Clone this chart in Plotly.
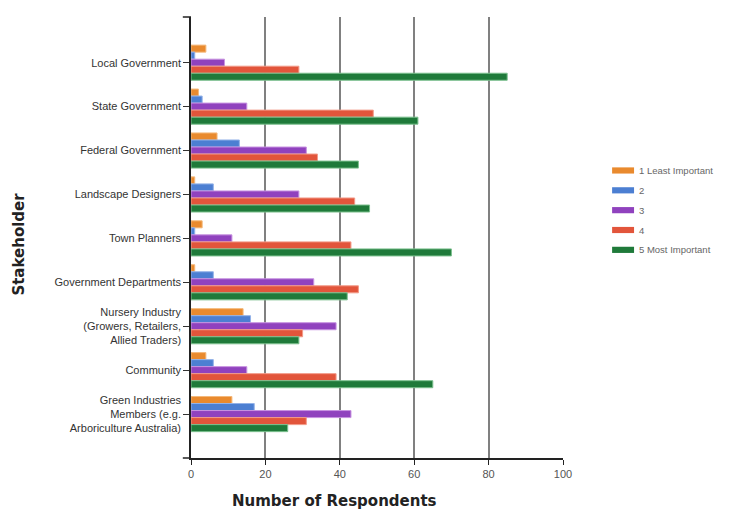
import plotly.graph_objects as go

# Stakeholder categories (top to bottom)
stakeholders = [
    "Local Government",
    "State Government",
    "Federal Government",
    "Landscape Designers",
    "Town Planners",
    "Government Departments",
    "Nursery Industry<br>(Growers, Retailers,<br>Allied Traders)",
    "Community",
    "Green Industries<br>Members (e.g.<br>Arboriculture Australia)",
]

# Respondent counts per importance rating
least_important = [4, 2, 7, 1, 3, 1, 14, 4, 11]
rating_2 = [1, 3, 13, 6, 1, 6, 16, 6, 17]
rating_3 = [9, 15, 31, 29, 11, 33, 39, 15, 43]
rating_4 = [29, 49, 34, 44, 43, 45, 30, 39, 31]
most_important = [85, 61, 45, 48, 70, 42, 29, 65, 26]

series_names = ["1 Least Important", "2", "3", "4", "5 Most Important"]
series_values = [least_important, rating_2, rating_3, rating_4, most_important]
series_colors = ["#E98A2E", "#4C7FD2", "#9042BE", "#E2553B", "#1F7A3A"]
edge_colors = ["#F4B87A", "#93B2E8", "#C792E0", "#F29A88", "#7CC08E"]

x_ticks = [0, 20, 40, 60, 80, 100]

fig = go.Figure()
for name, vals, col, edge in zip(series_names, series_values, series_colors, edge_colors):
    fig.add_trace(go.Bar(
        y=stakeholders,
        x=vals,
        name=name,
        orientation="h",
        marker=dict(color=col, line=dict(color=edge, width=1)),
        showlegend=False,
    ))

# Legend drawn as wide colour swatches with labels
legend_top = 0.652
legend_step = 0.045
for i, (name, col) in enumerate(zip(series_names, series_colors)):
    yc = legend_top - i * legend_step
    fig.add_shape(
        type="rect", xref="paper", yref="paper",
        x0=1.132, x1=1.191, y0=yc - 0.007, y1=yc + 0.007,
        fillcolor=col, line=dict(width=0),
    )
    fig.add_annotation(
        x=1.198, y=yc, xref="paper", yref="paper",
        text=name, showarrow=False, xanchor="left", yanchor="middle",
        font=dict(family="Liberation Sans, Arial", size=9.5, color="#666"),
    )

# Short end ticks on the category axis
for yv in (0, 1):
    fig.add_shape(
        type="line", xref="paper", yref="paper",
        x0=-0.022, x1=0, y0=yv, y1=yv,
        line=dict(color="#222", width=1.5),
    )

fig.add_annotation(
    x=0.387, y=-0.097, xref="paper", yref="paper",
    text="<b>Number of Respondents</b>", showarrow=False,
    xanchor="center", yanchor="middle",
    font=dict(family="DejaVu Sans", size=15, color="#222"),
)
fig.add_annotation(
    x=-0.461, y=0.485, xref="paper", yref="paper",
    text="<b>Stakeholder</b>", showarrow=False, textangle=-90,
    xanchor="center", yanchor="middle",
    font=dict(family="DejaVu Sans", size=15, color="#222"),
)

fig.update_layout(
    width=735,
    height=513,
    margin=dict(l=191, r=172, t=17, b=55),
    paper_bgcolor="white",
    plot_bgcolor="white",
    barmode="group",
    bargap=0.2,
    bargroupgap=0,
    font=dict(family="Liberation Sans, Arial", color="#333"),
)

fig.update_xaxes(
    range=[0, 100],
    tickvals=x_ticks,
    showgrid=True,
    gridcolor="#808080",
    gridwidth=2,
    showline=True,
    linecolor="#222",
    linewidth=1.5,
    ticks="outside",
    ticklen=5,
    tickcolor="#222",
    tickfont=dict(size=11, color="#555"),
    zeroline=False,
)
fig.update_yaxes(
    type="category",
    range=[9.0, -1.04],
    showgrid=False,
    showline=True,
    linecolor="#222",
    linewidth=1.5,
    ticks="outside",
    ticklen=6,
    tickcolor="#333",
    tickfont=dict(size=11, color="#333"),
)

fig.write_html("out.html")
